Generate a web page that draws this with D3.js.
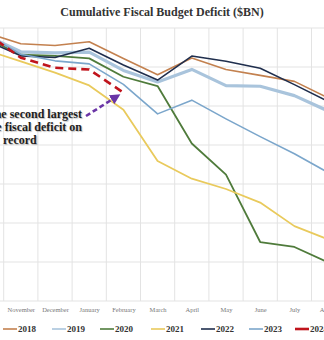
<!DOCTYPE html>
<html><head><meta charset="utf-8">
<script src="https://cdn.jsdelivr.net/npm/d3@7"></script>
<style>body{margin:0;background:#fff;}svg{display:block;font-family:"Liberation Serif","DejaVu Serif",serif;}</style>
</head><body><svg id="c" width="324" height="340"></svg>
<script>
const months = ["October","November","December","January","February","March","April","May","June","July","August","September"];
const years = ["2018","2019","2020","2021","2022","2023","2024"];
const v2018 = [-63,-202,-225,-176,-391,-600,-385,-532,-607,-684,-898,-779];
const v2019 = [-100,-305,-319,-310,-544,-691,-531,-739,-747,-867,-1067,-984];
const v2020 = [-134,-343,-357,-389,-625,-744,-1481,-1880,-2744,-2807,-3007,-3132];
const v2021 = [-284,-429,-573,-736,-1047,-1706,-1932,-2064,-2238,-2540,-2711,-2772];
const v2022 = [-165,-357,-378,-259,-475,-668,-360,-426,-515,-726,-946,-1375];
const v2023 = [-88,-337,-421,-460,-723,-1101,-925,-1165,-1393,-1613,-1857,-2028];
const v2024 = [-67,-381,-510,-532,-828];
const yTicks = [0,-500,-1000,-1500,-2000,-2500,-3000,-3500];
const title = "Cumulative Fiscal Budget Deficit ($BN)";
const noteLines = ["The second largest","The fiscal deficit on","record"];

const series = [
  {name:"2018", vals:v2018, color:"#c3814f", w:1.6},
  {name:"2019", vals:v2019, color:"#a9c4dc", w:3.2},
  {name:"2020", vals:v2020, color:"#4f7b3b", w:1.8},
  {name:"2021", vals:v2021, color:"#e9ca5c", w:1.8},
  {name:"2022", vals:v2022, color:"#1f2e4d", w:1.6},
  {name:"2023", vals:v2023, color:"#7ba6cb", w:1.6},
  {name:"2024", vals:v2024, color:"#c0141c", w:2.6, dash:"8,5"}
];

const svg = d3.select("#c");
const x = d3.scaleBand().domain(months).range([-30.5, -30.5 + 12*34.2]);
const y = d3.scaleLinear().domain([-3500, 0]).range([301, 28]);
const cx = m => x(m) + x.bandwidth()/2;

// gridlines
const g = svg.append("g");
g.selectAll(".hg").data(yTicks).join("line")
  .attr("x1", 0).attr("x2", 324).attr("y1", d => y(d)).attr("y2", d => y(d))
  .attr("stroke", "#e3e3e3").attr("stroke-width", 1);
const bounds = months.map(m => x(m)).concat([x(months[11]) + x.bandwidth()]);
g.selectAll(".vg").data(bounds).join("line")
  .attr("x1", d => d).attr("x2", d => d).attr("y1", y(0)).attr("y2", y(-3500))
  .attr("stroke", "#e3e3e3").attr("stroke-width", 1);

// x axis labels
const xa = svg.append("g").attr("transform", `translate(0,${y(-3500)})`)
  .call(d3.axisBottom(d3.scalePoint().domain(months).range([cx(months[0]), cx(months[11])])).tickSize(0).tickPadding(6));
xa.select(".domain").remove();
xa.selectAll("text").attr("font-size", 6.5).attr("fill", "#777").attr("font-family", "Liberation Serif, serif");

// lines
const line = d3.line().x((d,i) => cx(months[i])).y(d => y(d));
series.forEach(s => {
  svg.append("path").datum(s.vals).attr("d", line)
    .attr("fill", "none").attr("stroke", s.color).attr("stroke-width", s.w)
    .attr("stroke-linejoin", "round")
    .attr("stroke-dasharray", s.dash || null);
});

// title
svg.append("text").attr("x", 162).attr("y", 16).attr("text-anchor", "middle")
  .attr("font-size", 12).attr("font-weight", "bold").attr("fill", "#333").text(title);

// annotation
const note = svg.append("g").attr("font-size", 12).attr("font-weight", "bold").attr("fill", "#1e1e1e")
  .style("text-shadow", "1px 1px 1px rgba(0,0,0,0.25)");
note.append("text").attr("x", 82).attr("y", 118).attr("text-anchor", "end").text(noteLines[0]);
note.append("text").attr("x", 82).attr("y", 131).attr("text-anchor", "end").text(noteLines[1]);
note.append("text").attr("x", 3).attr("y", 144).attr("text-anchor", "start").text(noteLines[2]);

// arrow
svg.append("defs").append("marker").attr("id", "ah").attr("viewBox", "0 0 10 10")
  .attr("refX", 5).attr("refY", 5).attr("markerWidth", 4).attr("markerHeight", 4).attr("orient", "auto")
  .append("path").attr("d", "M0,0L10,5L0,10Z").attr("fill", "#6a35a6");
svg.append("line").attr("x1", 86).attr("y1", 116).attr("x2", 116).attr("y2", 97)
  .attr("stroke", "#6a35a6").attr("stroke-width", 2.6).attr("stroke-dasharray", "5,3")
  .attr("marker-end", "url(#ah)");

// legend
const lg = svg.append("g").attr("transform", "translate(0,329)");
const lx = [3, 52, 100, 151, 201, 249, 295];
series.forEach((s, i) => {
  const it = lg.append("g").attr("transform", `translate(${lx[i]},0)`);
  it.append("line").attr("x1", 0).attr("x2", 14).attr("y1", 0).attr("y2", 0)
    .attr("stroke", s.color).attr("stroke-width", s.name === "2024" ? 2.6 : 1.6);
  it.append("text").attr("x", 15).attr("y", 3.2).attr("font-size", 9).attr("font-weight", "bold")
    .attr("fill", "#333").text(s.name);
});
</script></body></html>
